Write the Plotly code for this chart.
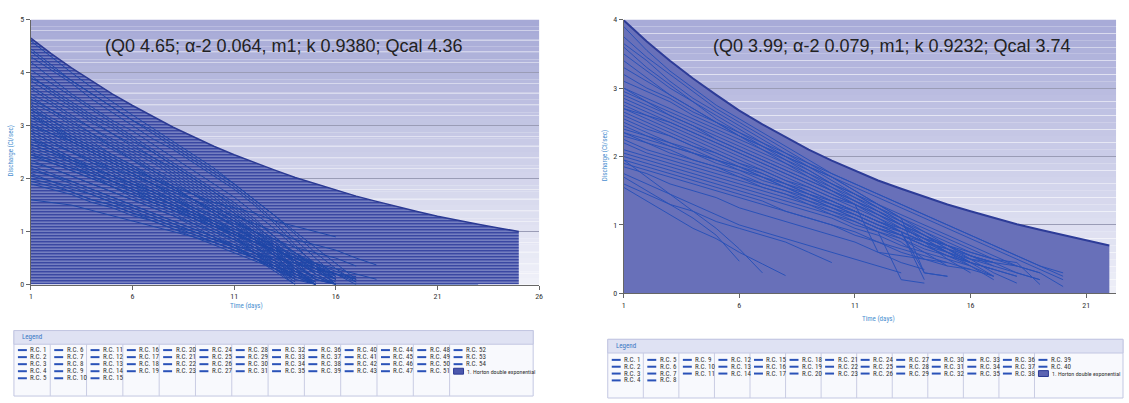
import plotly.graph_objects as go

W, H = 1129, 403

# ---------------- data ----------------
days_left = list(range(1, 27))
days_right = list(range(1, 23))

horton_left = [4.65, 4.36, 4.09, 3.84, 3.60, 3.38, 3.17, 2.97, 2.79, 2.61, 2.45, 2.30, 2.16,
               2.02, 1.90, 1.78, 1.67, 1.57, 1.47, 1.38, 1.29, 1.21, 1.14, 1.07, 1.00]
horton_right = [3.99, 3.68, 3.40, 3.14, 2.90, 2.67, 2.47, 2.28, 2.10, 1.94, 1.79, 1.65, 1.53,
                1.41, 1.30, 1.20, 1.10, 1.01, 0.93, 0.85, 0.77, 0.70]

rc_left = [
    [4.6, 4.3, 4.0, 3.72, 3.45, 3.2, 2.95, 2.7, 2.45, 2.2, 1.9, 1.6, 1.3, 0.95, 0.6, 0.3, 0.05],
    [4.45, 4.15, 3.85, 3.6, 3.35, 3.1, 2.85, 2.6, 2.35, 2.1, 1.85, 1.55, 1.2, 0.85, 0.5, 0.15],
    [4.3, 4.05, 3.8, 3.5, 3.25, 3.0, 2.75, 2.55, 2.3, 2.05, 1.8, 1.5, 1.15, 0.75, 0.35, 0.0],
    [4.2, 3.9, 3.6, 3.35, 3.1, 2.9, 2.65, 2.4, 2.15, 1.9, 1.65, 1.35, 1.05, 0.7, 0.4, 0.1],
    [4.05, 3.8, 3.55, 3.3, 3.05, 2.8, 2.55, 2.3, 2.05, 1.8, 1.55, 1.25, 0.9, 0.55, 0.2],
    [3.95, 3.65, 3.4, 3.15, 2.95, 2.7, 2.5, 2.25, 2.0, 1.75, 1.5, 1.2, 0.9, 0.6, 0.3, 0.0],
    [3.85, 3.6, 3.35, 3.1, 2.85, 2.6, 2.4, 2.2, 1.95, 1.7, 1.4, 1.1, 0.75, 0.4, 0.1],
    [3.75, 3.5, 3.3, 3.05, 2.85, 2.65, 2.4, 2.15, 1.9, 1.65, 1.35, 1.05, 0.7, 0.3, 0.0],
    [3.7, 3.45, 3.2, 2.95, 2.75, 2.55, 2.35, 2.1, 1.85, 1.6, 1.35, 1.1, 0.85, 0.6, 0.35, 0.1],
    [3.6, 3.4, 3.15, 2.95, 2.7, 2.5, 2.3, 2.05, 1.8, 1.55, 1.3, 1.0, 0.7, 0.4, 0.1],
    [3.55, 3.3, 3.1, 2.85, 2.65, 2.45, 2.2, 2.0, 1.75, 1.5, 1.25, 0.95, 0.65, 0.3, 0.0],
    [3.45, 3.25, 3.0, 2.8, 2.6, 2.4, 2.15, 1.95, 1.7, 1.45, 1.2, 0.9, 0.6, 0.25],
    [3.4, 3.15, 2.95, 2.75, 2.55, 2.35, 2.15, 1.9, 1.7, 1.5, 1.25, 1.0, 0.75, 0.5, 0.3, 0.1],
    [3.35, 3.1, 2.9, 2.7, 2.45, 2.25, 2.05, 1.85, 1.6, 1.4, 1.15, 0.9, 0.6, 0.3, 0.05],
    [3.3, 3.1, 2.85, 2.65, 2.45, 2.25, 2.0, 1.8, 1.6, 1.35, 1.1, 0.85, 0.55, 0.2],
    [3.25, 3.0, 2.8, 2.6, 2.4, 2.2, 2.0, 1.8, 1.6, 1.4, 1.2, 1.0, 0.8, 0.6, 0.4, 0.2, 0.05],
    [3.2, 2.95, 2.75, 2.55, 2.35, 2.15, 1.95, 1.75, 1.55, 1.35, 1.1, 0.85, 0.55, 0.2, 0.0],
    [3.15, 2.95, 2.7, 2.5, 2.3, 2.1, 1.9, 1.7, 1.5, 1.3, 1.1, 0.9, 0.7, 0.45, 0.2, 0.0],
    [3.1, 2.9, 2.7, 2.5, 2.3, 2.1, 1.9, 1.7, 1.45, 1.25, 1.0, 0.75, 0.45, 0.15],
    [3.05, 2.85, 2.65, 2.45, 2.25, 2.05, 1.85, 1.65, 1.45, 1.25, 1.05, 0.85, 0.65, 0.5, 0.3, 0.1],
    [3.0, 2.8, 2.6, 2.4, 2.2, 2.0, 1.8, 1.6, 1.4, 1.2, 1.0, 0.8, 0.55, 0.3, 0.0],
    [2.95, 2.75, 2.55, 2.35, 2.15, 1.95, 1.8, 1.6, 1.4, 1.2, 1.0, 0.8, 0.6, 0.45, 0.3, 0.2, 0.1],
    [2.9, 2.7, 2.5, 2.3, 2.15, 1.95, 1.75, 1.55, 1.35, 1.15, 0.95, 0.7, 0.45, 0.2, 0.0],
    [2.85, 2.65, 2.5, 2.3, 2.1, 1.9, 1.75, 1.55, 1.35, 1.15, 0.95, 0.75, 0.55, 0.35, 0.15, 0.0],
    [2.8, 2.6, 2.4, 2.25, 2.05, 1.9, 1.7, 1.5, 1.3, 1.1, 0.9, 0.65, 0.4, 0.1],
    [2.75, 2.6, 2.4, 2.2, 2.05, 1.85, 1.7, 1.5, 1.35, 1.15, 0.95, 0.8, 0.65, 0.5, 0.4, 0.3, 0.2, 0.1],
    [2.7, 2.55, 2.35, 2.2, 2.0, 1.85, 1.65, 1.5, 1.3, 1.1, 0.9, 0.7, 0.5, 0.25, 0.0],
    [2.65, 2.5, 2.3, 2.15, 1.95, 1.8, 1.6, 1.45, 1.25, 1.05, 0.85, 0.6, 0.35, 0.1],
    [2.6, 2.45, 2.3, 2.1, 1.95, 1.75, 1.6, 1.45, 1.3, 1.15, 1.0, 0.85, 0.7, 0.55, 0.4, 0.25, 0.1],
    [2.55, 2.4, 2.25, 2.05, 1.9, 1.75, 1.55, 1.4, 1.2, 1.0, 0.8, 0.6, 0.4, 0.15, 0.0],
    [2.5, 2.35, 2.2, 2.05, 1.85, 1.7, 1.55, 1.4, 1.25, 1.1, 0.95, 0.8, 0.65, 0.45, 0.25, 0.05],
    [2.45, 2.3, 2.15, 2.0, 1.85, 1.65, 1.5, 1.35, 1.15, 0.95, 0.75, 0.5, 0.25, 0.0],
    [2.4, 2.3, 2.15, 2.0, 1.85, 1.7, 1.55, 1.4, 1.25, 1.1, 0.95, 0.8, 0.65, 0.5, 0.35, 0.2, 0.0],
    [2.35, 2.2, 2.05, 1.9, 1.75, 1.6, 1.45, 1.3, 1.1, 0.9, 0.7, 0.5, 0.3, 0.05],
    [2.3, 2.2, 2.05, 1.9, 1.75, 1.6, 1.45, 1.3, 1.15, 1.0, 0.85, 0.7, 0.55, 0.4, 0.25, 0.1],
    [2.25, 2.1, 1.95, 1.8, 1.65, 1.5, 1.35, 1.2, 1.05, 0.9, 0.7, 0.5, 0.3, 0.1, 0.0],
    [2.2, 2.05, 1.95, 1.8, 1.65, 1.5, 1.35, 1.2, 1.05, 0.9, 0.75, 0.6, 0.45, 0.3, 0.15, 0.0],
    [2.15, 2.05, 1.9, 1.75, 1.6, 1.45, 1.3, 1.15, 1.0, 0.85, 0.7, 0.55, 0.35, 0.15],
    [2.1, 1.95, 1.85, 1.7, 1.55, 1.45, 1.3, 1.15, 1.0, 0.85, 0.7, 0.55, 0.4, 0.25, 0.1, 0.0],
    [2.05, 1.95, 1.8, 1.7, 1.55, 1.4, 1.25, 1.1, 0.95, 0.8, 0.65, 0.5, 0.35, 0.2, 0.0],
    [2.0, 1.9, 1.75, 1.6, 1.5, 1.35, 1.2, 1.05, 0.9, 0.75, 0.6, 0.45, 0.3, 0.15, 0.0],
    [1.95, 1.85, 1.75, 1.6, 1.5, 1.35, 1.25, 1.1, 1.0, 0.85, 0.75, 0.6, 0.5, 0.4, 0.3, 0.2, 0.15],
    [1.9, 1.8, 1.7, 1.55, 1.45, 1.3, 1.2, 1.05, 0.95, 0.8, 0.65, 0.5, 0.3, 0.1],
    [1.6, 1.55, 1.5, 1.4, 1.3, 1.2, 1.1, 1.0, 0.9, 0.8, 0.65, 0.5, 0.35, 0.2, 0.05],
    [3.2, 3.0, 2.75, 2.55, 2.35, 2.15, 2.0, 1.85, 1.7, 1.55, 1.45, 1.35, 1.2, 1.1, 1.0, 0.9],
    [2.9, 2.7, 2.5, 2.35, 2.2, 2.05, 1.9, 1.75, 1.6, 1.45, 1.3, 1.15, 1.0, 0.85, 0.75, 0.65, 0.5, 0.37],
    [2.65, 2.5, 2.35, 2.2, 2.05, 1.9, 1.75, 1.6, 1.45, 1.3, 1.15, 1.0, 0.85, 0.7, 0.6, 0.5, 0.35],
    [3.9, 3.7, 3.45, 3.2, 3.0, 2.75, 2.5, 2.25, 2.0, 1.75, 1.45, 1.15, 0.8, 0.45, 0.1],
    [3.5, 3.3, 3.05, 2.85, 2.6, 2.35, 2.1, 1.85, 1.6, 1.35, 1.1, 0.85, 0.6, 0.35, 0.1, 0.0,
     0.0, 0.0, 0.0, 0.0, 0.0, 0.0, 0.0],
    [3.0, 2.85, 2.7, 2.5, 2.3, 2.1, 1.9, 1.65, 1.4, 1.15, 0.9, 0.6, 0.3, 0.0],
    [2.45, 2.35, 2.2, 2.1, 1.95, 1.8, 1.65, 1.5, 1.35, 1.2, 1.05, 0.9, 0.75, 0.55, 0.35, 0.15],
    [4.4, 4.1, 3.85, 3.6, 3.35, 3.1, 2.9, 2.65, 2.4, 2.15, 1.9, 1.6, 1.3, 1.0, 0.7, 0.4, 0.1],
    [3.3, 3.05, 2.8, 2.6, 2.4, 2.2, 2.0, 1.8, 1.6, 1.4, 1.2, 0.95, 0.7, 0.45, 0.2, 0.0],
    [2.75, 2.55, 2.35, 2.15, 1.95, 1.8, 1.6, 1.45, 1.25, 1.05, 0.85, 0.65, 0.45, 0.25, 0.05],
]

rc_right = [
    [3.9, 3.55, 3.25, 3.0, 2.75, 2.55, 2.35, 2.15, 1.95, 1.75, 1.6, 1.45, 1.3, 1.15, 1.0, 0.85, 0.7, 0.55, 0.4, 0.25],
    [3.75, 3.45, 3.2, 2.95, 2.7, 2.5, 2.3, 2.1, 1.9, 1.7, 1.5, 1.3, 1.1, 0.9, 0.7, 0.5, 0.3, 0.15],
    [3.65, 3.4, 3.1, 2.85, 2.65, 2.45, 2.25, 2.05, 1.85, 1.65, 1.45, 1.25, 1.05, 0.85, 0.65, 0.45, 0.25],
    [3.6, 3.3, 3.05, 2.8, 2.6, 2.4, 2.2, 2.0, 1.8, 1.6, 1.4, 1.2, 1.0, 0.75, 0.5, 0.3],
    [3.5, 3.25, 3.0, 2.8, 2.55, 2.35, 2.15, 1.95, 1.75, 1.55, 1.35, 1.15, 0.95, 0.8, 0.6, 0.45, 0.35, 0.25],
    [3.3, 3.1, 2.9, 2.7, 2.5, 2.35, 2.2, 2.05, 1.9, 1.75, 1.6, 1.45, 1.3, 1.15, 1.0, 0.85, 0.7, 0.55, 0.4, 0.3],
    [3.2, 3.0, 2.85, 2.65, 2.5, 2.3, 2.15, 2.0, 1.85, 1.7, 1.5, 1.3, 1.1, 0.3, 0.25],
    [3.1, 2.95, 2.8, 2.6, 2.45, 2.3, 2.15, 2.0, 1.85, 1.7, 1.55, 1.4, 1.25, 1.1, 0.95, 0.8, 0.65, 0.5, 0.35, 0.2],
    [3.0, 2.85, 2.7, 2.55, 2.4, 2.25, 2.1, 1.95, 1.8, 1.6, 1.45, 1.3, 1.15, 1.0, 0.85, 0.7, 0.55, 0.4, 0.3],
    [2.95, 2.8, 2.65, 2.5, 2.35, 2.2, 2.05, 1.9, 1.75, 1.6, 1.45, 1.25, 1.05, 0.85, 0.65, 0.45],
    [2.9, 2.75, 2.6, 2.45, 2.3, 2.15, 2.0, 1.85, 1.7, 1.55, 1.4, 1.25, 1.1, 0.95, 0.8, 0.65, 0.5, 0.4, 0.3, 0.1],
    [2.85, 2.7, 2.55, 2.4, 2.25, 2.1, 1.95, 1.8, 1.65, 1.5, 1.35, 1.2, 1.05, 0.9, 0.75, 0.6, 0.5, 0.45, 0.13],
    [2.8, 2.65, 2.5, 2.35, 2.2, 2.05, 1.9, 1.75, 1.6, 1.45, 1.3, 0.6, 0.55, 0.5],
    [2.75, 2.6, 2.45, 2.3, 2.15, 2.0, 1.85, 1.7, 1.55, 1.4, 1.25, 1.1, 0.95, 0.8, 0.7, 0.6, 0.5],
    [2.7, 2.55, 2.4, 2.25, 2.1, 1.95, 1.8, 1.65, 1.5, 1.35, 1.2, 1.05, 0.9, 0.75, 0.6],
    [2.65, 2.5, 2.35, 2.2, 2.05, 1.9, 1.75, 1.6, 1.45, 1.3, 1.15, 1.0, 0.85, 0.7, 0.55, 0.45, 0.35, 0.25],
    [2.6, 2.45, 2.3, 2.15, 2.0, 1.85, 1.7, 1.55, 1.4, 1.25, 1.1, 0.95, 0.85, 0.75, 0.65, 0.55, 0.45],
    [2.55, 2.4, 2.3, 2.15, 2.05, 1.9, 1.8, 1.65, 1.55, 1.4, 1.3, 1.15, 1.0, 0.85, 0.7, 0.55, 0.4, 0.3, 0.2],
    [2.5, 2.35, 2.2, 2.1, 1.95, 1.85, 1.7, 1.6, 1.45, 1.35, 1.2, 1.05, 0.9, 0.3, 0.25],
    [2.45, 2.3, 2.2, 2.05, 1.95, 1.8, 1.7, 1.55, 1.45, 1.3, 1.2, 1.05, 0.95, 0.8, 0.7, 0.55, 0.45],
    [2.4, 2.3, 2.15, 2.05, 1.9, 1.8, 1.65, 1.55, 1.4, 1.3, 1.15, 1.0, 0.85, 0.7, 0.55, 0.4, 0.25],
    [2.35, 2.2, 2.1, 1.95, 1.85, 1.75, 1.6, 1.5, 1.4, 1.25, 1.15, 1.0, 0.9, 0.75, 0.65, 0.5, 0.4],
    [2.3, 2.2, 2.05, 1.95, 1.85, 1.7, 1.6, 1.5, 1.35, 1.25, 1.1, 0.95, 0.8, 0.6, 0.4],
    [2.25, 2.1, 2.0, 1.9, 1.8, 1.7, 1.55, 1.45, 1.35, 1.2, 1.1, 0.95, 0.85, 0.7, 0.6, 0.45],
    [2.2, 2.05, 1.95, 1.85, 1.75, 1.65, 1.55, 1.45, 1.3, 1.2, 1.05, 0.9, 0.75, 0.5, 0.45],
    [2.1, 2.0, 1.9, 1.8, 1.7, 1.6, 1.5, 1.4, 1.3, 1.15, 1.05, 0.9, 0.2, 0.15],
    [2.05, 1.95, 1.85, 1.75, 1.65, 1.55, 1.45, 1.35, 1.25, 1.15, 1.0, 0.9, 0.8, 0.65, 0.55, 0.45, 0.35],
    [2.0, 1.9, 1.8, 1.7, 1.6, 1.5, 1.4, 1.3, 1.2, 1.1, 0.95, 0.85, 0.7, 0.6, 0.5, 0.4],
    [1.95, 1.85, 1.75, 1.65, 1.55, 1.45, 1.35, 1.2, 1.1, 1.0, 0.85, 0.75, 0.6, 0.5, 0.4, 0.35],
    [1.9, 1.8, 1.7, 1.6, 1.5, 1.4, 1.3, 1.2, 1.1, 1.0, 0.9, 0.75, 0.65, 0.55, 0.45, 0.35, 0.25],
    [1.85, 1.75, 1.6, 1.5, 1.4, 1.25, 1.15, 1.05, 0.95, 0.85, 0.75, 0.6, 0.45, 0.35],
    [1.75, 1.6, 1.45, 1.3, 1.15, 1.0, 0.9, 0.8, 0.7, 0.6, 0.5, 0.4, 0.3],
    [1.6, 1.45, 1.3, 1.2, 1.05, 0.95, 0.85, 0.75, 0.6, 0.45],
    [1.55, 1.35, 1.15, 0.95, 0.8, 0.6, 0.43, 0.26],
    [1.95, 1.7, 1.45, 1.2, 0.95, 0.65, 0.3],
    [1.7, 1.5, 1.3, 1.1, 0.85, 0.47],
    [3.4, 3.15, 2.9, 2.7, 2.5, 2.3, 2.1, 1.9, 1.7, 1.5, 1.3, 1.1, 0.9, 0.2],
    [3.0, 2.8, 2.6, 2.45, 2.25, 2.1, 1.95, 1.8, 1.65, 1.5, 1.35, 1.2, 1.0, 0.8, 0.6, 0.4, 0.2],
    [2.7, 2.6, 2.5, 2.35, 2.2, 2.05, 1.9, 1.75, 1.6, 1.45, 1.3, 1.15, 1.0, 0.85, 0.7, 0.55, 0.45, 0.4],
    [2.35, 2.25, 2.15, 2.05, 1.95, 1.85, 1.75, 1.6, 1.5, 1.35, 1.2, 1.05, 0.9, 0.75, 0.6, 0.5, 0.45, 0.3, 0.2],
]

title_left = "(Q0 4.65; α-2 0.064, m1; k 0.9380; Qcal 4.36"
title_right = "(Q0 3.99; α-2 0.079, m1; k 0.9232; Qcal 3.74"
horton_label = "1. Horton double exponential"
# legend column sizes (entries per column)
legend_cols_left = [5, 5, 5, 4, 4, 4, 4, 4, 4, 4, 4, 4, 3]
legend_cols_right = [4, 4, 3, 3, 3, 3, 3, 3, 3, 3, 3, 3, 2]

# ---------------- helpers ----------------
def px(x):
    return x / W


def py(y):
    return 1 - y / H


NARROW = ("Roboto Condensed, DejaVu Sans Condensed, Liberation Sans Narrow, "
          "Nimbus Sans Narrow, Arial Narrow, Liberation Sans, sans-serif")
LINE_L = "#1f47a8"
LINE_R = "#2a52b8"

fig = go.Figure()

# Horton curves (filled)
fig.add_trace(go.Scatter(
    x=days_left[:len(horton_left)], y=horton_left, mode="lines", fill="tozeroy",
    fillcolor="#3a48a2",
    fillpattern=dict(shape="-", bgcolor="#3a48a2", fgcolor="#9fa7d6", size=3, solidity=0.3,
                     fillmode="replace"),
    line=dict(color="#2b3a94", width=1.5), xaxis="x", yaxis="y", showlegend=False,
    name=horton_label))
fig.add_trace(go.Scatter(
    x=days_right[:len(horton_right)], y=horton_right, mode="lines", fill="tozeroy",
    fillcolor="#6870b9",
    line=dict(color="#2d3c98", width=2), xaxis="x2", yaxis="y2", showlegend=False,
    name=horton_label))

for i, s in enumerate(rc_left):
    fig.add_trace(go.Scatter(x=days_left[:len(s)], y=s, mode="lines",
                             line=dict(color=LINE_L, width=1), name=f"R.C. {i+1}",
                             xaxis="x", yaxis="y", showlegend=False))
for i, s in enumerate(rc_right):
    fig.add_trace(go.Scatter(x=days_right[:len(s)], y=s, mode="lines",
                             line=dict(color=LINE_R, width=1), name=f"R.C. {i+1}",
                             xaxis="x2", yaxis="y2", showlegend=False))

shapes = []
annotations = []

# gradient plot backgrounds
def gradient(xref, yref, top, bottom, n=40):
    for k in range(n):
        t = k / (n - 1)
        c = tuple(round(top[j] + (bottom[j] - top[j]) * t) for j in range(3))
        shapes.append(dict(type="rect", xref=xref, yref=yref, x0=0, x1=1,
                           y0=1 - (k + 1) / n, y1=1 - k / n, layer="below",
                           fillcolor=f"rgb{c}", line=dict(width=0)))


gradient("x domain", "y domain", (166, 169, 214), (240, 241, 249))
gradient("x2 domain", "y2 domain", (168, 171, 216), (238, 239, 248))

# titles inside the plots
annotations.append(dict(text=title_left, x=px(284), y=py(43), xref="paper", yref="paper",
                        showarrow=False, xanchor="center", yanchor="middle",
                        font=dict(family="Liberation Sans, Arial", size=18, color="#222")))
annotations.append(dict(text=title_right, x=px(895), y=py(43), xref="paper", yref="paper",
                        showarrow=False, xanchor="center", yanchor="middle",
                        font=dict(family="Liberation Sans, Arial", size=18, color="#222")))

# axis titles
for (xx, yy, txt, ang) in [(9, 150, "Discharge (Cl/sec)", -90), (606, 155, "Discharge (Cl/sec)", -90),
                           (246, 309, "Time (days)", 0), (881, 322, "Time (days)", 0)]:
    annotations.append(dict(text=txt, x=px(xx), y=py(yy), xref="paper", yref="paper",
                            showarrow=False, xanchor="center", yanchor="middle", textangle=ang,
                            font=dict(family=NARROW, size=7, color="#4a8fd0")))


# legends
def legend_box(x0, y0, x1, y1, hb, col_w, row_ys, cols, swatch):
    shapes.append(dict(type="rect", xref="paper", yref="paper", x0=px(x0), x1=px(x1),
                       y0=py(y1), y1=py(y0), fillcolor="#f8f9fd",
                       line=dict(color="#c3c7e2", width=1), layer="above"))
    shapes.append(dict(type="rect", xref="paper", yref="paper", x0=px(x0), x1=px(x1),
                       y0=py(hb), y1=py(y0), fillcolor="#dfe2f3",
                       line=dict(color="#c3c7e2", width=1), layer="above"))
    annotations.append(dict(text="Legend", x=px(x0 + 6), y=py((y0 + hb) / 2), xref="paper",
                            yref="paper", showarrow=False, xanchor="left", yanchor="middle",
                            font=dict(family=NARROW, size=7, color="#3a78c4")))
    n = 1
    for c, cnt in enumerate(cols):
        cx = x0 + c * col_w
        if c > 0:
            shapes.append(dict(type="line", xref="paper", yref="paper", x0=px(cx), x1=px(cx),
                               y0=py(y1), y1=py(hb), line=dict(color="#c9cce3", width=1),
                               layer="above"))
        for r in range(cnt):
            ry = row_ys[r]
            shapes.append(dict(type="line", xref="paper", yref="paper", x0=px(cx + 4),
                               x1=px(cx + 13), y0=py(ry), y1=py(ry),
                               line=dict(color="#2a52b8", width=2), layer="above"))
            annotations.append(dict(text=f"R.C. {n}", x=px(cx + 14.5), y=py(ry), xref="paper",
                                    yref="paper", showarrow=False, xanchor="left",
                                    yanchor="middle",
                                    font=dict(family=NARROW, size=7, color="#333")))
            n += 1
        if c == len(cols) - 1:
            ry = row_ys[cnt]
            shapes.append(dict(type="rect", xref="paper", yref="paper", x0=px(cx + 4),
                               x1=px(cx + 14), y0=py(ry + 3), y1=py(ry - 3),
                               fillcolor=swatch, line=dict(color="#2b3a94", width=1),
                               layer="above"))
            annotations.append(dict(text=horton_label, x=px(cx + 15.5), y=py(ry), xref="paper",
                                    yref="paper", showarrow=False, xanchor="left",
                                    yanchor="middle",
                                    font=dict(family=NARROW, size=6, color="#333")))


legend_box(12, 334, 534, 401, 348, 36.5, [354, 361.2, 368.4, 375.6, 382.8], legend_cols_left,
           "#4c58ad")
legend_box(609, 343, 1127, 403, 357, 35.75, [364, 371, 378, 385], legend_cols_right,
           "#5c64b2")

axis_common = dict(showline=True, linecolor="#666", linewidth=1, ticks="outside", ticklen=4,
                   tickcolor="#666", tickfont=dict(family=NARROW, size=8, color="#333"),
                   zeroline=False)

fig.update_layout(
    width=W, height=H, margin=dict(l=0, r=0, t=0, b=0),
    paper_bgcolor="white", plot_bgcolor="rgba(0,0,0,0)", showlegend=False,
    xaxis=dict(domain=[px(29), px(540)], range=[1, 26], tickvals=[1, 6, 11, 16, 21, 26],
               showgrid=False, anchor="y", **axis_common),
    yaxis=dict(domain=[py(287), py(16)], range=[0, 5], tickvals=[0, 1, 2, 3, 4, 5],
               showgrid=True, gridcolor="#9a9cb6", gridwidth=1, anchor="x",
               minor=dict(dtick=0.2, showgrid=True, gridcolor="rgba(255,255,255,0.45)",
                          gridwidth=1, ticks=""),
               **axis_common),
    xaxis2=dict(domain=[px(625), px(1120)], range=[1, 22.29], tickvals=[1, 6, 11, 16, 21],
                showgrid=False, anchor="y2", **axis_common),
    yaxis2=dict(domain=[py(296), py(16)], range=[0, 4], tickvals=[0, 1, 2, 3, 4],
                showgrid=True, gridcolor="#9a9cb6", gridwidth=1, anchor="x2",
                minor=dict(dtick=0.2, showgrid=True, gridcolor="rgba(255,255,255,0.45)",
                           gridwidth=1, ticks=""),
                **axis_common),
    shapes=shapes, annotations=annotations,
)

fig.write_html("out.html")
